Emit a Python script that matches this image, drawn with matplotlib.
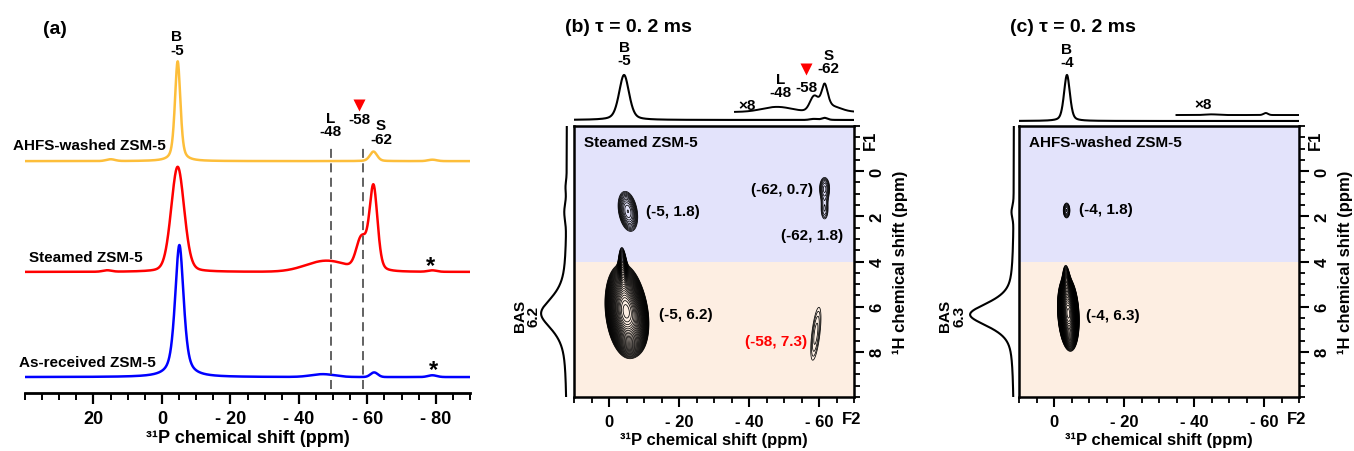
import numpy as np
import matplotlib.pyplot as plt
from matplotlib.ticker import MultipleLocator

plt.rcParams['font.family'] = ['Liberation Sans', 'DejaVu Sans']
plt.rcParams['font.weight'] = 'bold'

W, H = 1354, 452

# ---- (a) 1D 31P spectra; each peak = centre (ppm), fwhm (ppm), height, lorentz fraction
ahfs_pos = [-4.6, -61.8, 15.0, -79.0]
ahfs_fwhm = [1.9, 2.5, 3.0, 3.0]
ahfs_amp = [0.282, 0.027, 0.005, 0.004]
ahfs_eta = [0.5, 0.3, 0.0, 0.0]

steam_pos = [-4.6, -61.8, -58.3, -48.0, 16.0, -79.0]
steam_fwhm = [4.5, 2.8, 3.5, 14.0, 3.0, 3.0]
steam_amp = [0.297, 0.240, 0.085, 0.031, 0.004, 0.004]
steam_eta = [0.2, 0.3, 0.0, 0.0, 0.0, 0.0]

asrec_pos = [-5.1, -47.0, -62.0, -79.0]
asrec_fwhm = [3.0, 8.0, 2.5, 3.0]
asrec_amp = [0.373, 0.008, 0.013, 0.005]
asrec_eta = [0.6, 0.0, 0.0, 0.0]

off_ahfs, off_steam, off_asrec = 0.655, 0.342, 0.045
dashed_ppm = [-49.3, -58.6]

# ---- (b) steamed ZSM-5, 2D peaks: 31P centre, 1H centre, sx, sy, shear, amplitude
b_cx = [-4.8, -8.0, -4.0, -5.4, -61.6, -61.6, -59.1]
b_cy = [6.2, 6.6, 4.5, 1.78, 0.75, 1.75, 7.2]
b_sx = [2.1, 1.5, 0.6, 1.7, 1.2, 1.0, 1.3]
b_sy = [0.75, 0.6, 0.55, 0.56, 0.4, 0.4, 1.3]
b_k = [-0.5, -0.4, -0.3, -0.9, 0.0, 0.0, 0.75]
b_amp = [1.0, 0.15, 0.15, 0.07, 0.04, 0.03, 0.03]

# top projection (31P) and x8 zoom, left projection (1H)
b_top_pos = [-4.3, -61.6, -58.5]
b_top_fwhm = [3.4, 2.0, 2.5]
b_top_amp = [0.536, 0.025, 0.012]
b_top_eta = [0.4, 0.3, 0.0]
b_x8_pos = [-48.0, -58.6, -61.6, -64.0]
b_x8_fwhm = [10.0, 2.8, 2.2, 6.0]
b_x8_amp = [0.06, 0.17, 0.30, 0.05]
b_x8_eta = [0.0, 0.0, 0.5, 0.0]
b_left_pos = [6.3, 1.8, 0.7]
b_left_fwhm = [1.7, 0.9, 0.6]
b_left_amp = [0.74, 0.06, 0.03]
b_left_eta = [0.7, 0.0, 0.0]

# ---- (c) AHFS-washed ZSM-5
c_cx = [-4.1, -3.6, -3.6]
c_cy = [6.3, 5.0, 1.74]
c_sx = [1.1, 0.55, 0.75]
c_sy = [0.6, 0.45, 0.26]
c_k = [-0.35, -0.3, 0.0]
c_amp = [1.0, 0.1, 0.045]

c_top_pos = [-3.7]
c_top_fwhm = [2.0]
c_top_amp = [0.548]
c_top_eta = [0.4]
c_x8_pos = [-60.5, -45.0]
c_x8_fwhm = [1.5, 4.0]
c_x8_amp = [0.024, 0.008]
c_x8_eta = [0.0, 0.0]
c_left_pos = [6.35, 1.8]
c_left_fwhm = [1.25, 0.6]
c_left_amp = [0.77, 0.035]
c_left_eta = [0.6, 0.0]

fig = plt.figure(figsize=(W / 100, H / 100), dpi=100)


def px_axes(x0, y0, x1, y1):
    return fig.add_axes([x0 / W, 1 - y1 / H, (x1 - x0) / W, (y1 - y0) / H])


def ftext(x, y, s, **kw):
    fig.text(x / W, 1 - y / H, s, **kw)


def pv(x, c, w, h, eta):
    g = np.exp(-4 * np.log(2) * ((x - c) / w) ** 2)
    l = 1 / (1 + ((x - c) / (w / 2)) ** 2)
    return h * (eta * l + (1 - eta) * g)


def spec(x, pos, fwhm, amp, eta):
    return sum(pv(x, *p) for p in zip(pos, fwhm, amp, eta))


def peaks2d(X, Y, cx, cy, sx, sy, k, amp):
    Z = np.zeros_like(X)
    for x0, y0, a, b, s, h in zip(cx, cy, sx, sy, k, amp):
        U = X - (x0 + s * (Y - y0))
        Z += h * np.exp(-0.5 * ((U / a) ** 2 + ((Y - y0) / b) ** 2))
    return Z


def blank(ax):
    for s in ax.spines.values():
        s.set_visible(False)
    ax.set_xticks([])
    ax.set_yticks([])
    ax.patch.set_alpha(0)


# ================= (a)
ax = px_axes(25, 40, 470, 394)
x = np.linspace(40, -90, 2600)
ax.plot(x, off_ahfs + spec(x, ahfs_pos, ahfs_fwhm, ahfs_amp, ahfs_eta), color='#FDBE3A', lw=1.8)
ax.plot(x, off_steam + spec(x, steam_pos, steam_fwhm, steam_amp, steam_eta), color='#FF0000', lw=1.8)
ax.plot(x, off_asrec + spec(x, asrec_pos, asrec_fwhm, asrec_amp, asrec_eta), color='#0000FF', lw=1.8)
for d in dashed_ppm:
    ax.plot([d, d], [0.011, 0.703], color='#555555', lw=1.3, dashes=(5, 3))
ax.set_xlim(40, -90)
ax.set_ylim(0, 1)
for s in ['top', 'left', 'right']:
    ax.spines[s].set_visible(False)
ax.spines['bottom'].set_linewidth(2)
ax.set_yticks([])
ax.set_xticks([20, 0, -20, -40, -60, -80])
ax.set_xticklabels(['20', '0', '- 20', '- 40', '- 60', '- 80'])
ax.xaxis.set_minor_locator(MultipleLocator(5))
ax.tick_params(axis='x', which='major', direction='out', length=8, width=1.6, labelsize=13, pad=4)
ax.tick_params(axis='x', which='minor', direction='out', length=5, width=1.4)
ax.set_xlabel('³¹P chemical shift (ppm)', fontsize=13, fontweight='bold', labelpad=2)
ax.patch.set_alpha(0)

ax.text(-1.2, 0.70, 'AHFS-washed ZSM-5', ha='right', va='center', fontsize=11)
ax.text(5.5, 0.384, 'Steamed ZSM-5', ha='right', va='center', fontsize=11)
ax.text(1.7, 0.088, 'As-received ZSM-5', ha='right', va='center', fontsize=11)
ax.text(-4.4, 0.95, 'B\n-5', ha='center', va='bottom', fontsize=11, linespacing=0.95)
ax.text(-49.3, 0.72, 'L\n-48', ha='center', va='bottom', fontsize=11, linespacing=0.95)
ax.text(-57.7, 0.755, '-58', ha='center', va='bottom', fontsize=11)
ax.plot(-57.7, 0.814, marker='v', color='red', ms=8, mec='none', clip_on=False)
ax.text(-64.0, 0.698, 'S\n-62', ha='center', va='bottom', fontsize=11, linespacing=0.95)
ax.text(-78.4, 0.36, '*', ha='center', va='center', fontsize=17)
ax.text(-79.3, 0.065, '*', ha='center', va='center', fontsize=17)
ftext(55, 30, '(a)', ha='center', va='center', fontsize=14)


# ================= (b), (c)
def panel2d(xl, title, sample, cx, cy, sx, sy, k, amp,
            top, x8, x8_start, top_base, x8_base, left, left_box, left_base):
    ax = px_axes(xl, 127, xl + 280, 398)
    ax.axhspan(-2, 4, color='#E3E3FB', zorder=0, lw=0)
    ax.axhspan(4, 10, color='#FDEEE2', zorder=0, lw=0)
    gx = np.linspace(10, -70, 800)
    gy = np.linspace(-2, 10, 700)
    X, Y = np.meshgrid(gx, gy)
    Z = peaks2d(X, Y, cx, cy, sx, sy, k, amp)
    levels = 0.02 * 1.12 ** np.arange(36)
    ax.contour(X, Y, Z, levels=levels, colors='black', linewidths=0.55, zorder=2)
    ax.set_xlim(10, -70)
    ax.set_ylim(10, -2)
    for s in ax.spines.values():
        s.set_linewidth(1.8)
    ax.set_xticks([0, -20, -40, -60])
    ax.set_xticklabels(['0', '- 20', '- 40', '- 60'])
    ax.xaxis.set_minor_locator(MultipleLocator(5))
    ax.yaxis.tick_right()
    ax.yaxis.set_label_position('right')
    ax.set_yticks([0, 2, 4, 6, 8])
    ax.yaxis.set_minor_locator(MultipleLocator(0.5))
    ax.tick_params(which='major', direction='out', length=7, width=1.5, labelsize=12)
    ax.tick_params(which='minor', direction='out', length=4, width=1.3)
    ax.tick_params(axis='x', pad=5)
    ax.tick_params(axis='y', pad=4)
    for t in ax.get_yticklabels():
        t.set_rotation(90)
        t.set_va('center')
    ax.set_xlabel('³¹P chemical shift (ppm)', fontsize=12, fontweight='bold', labelpad=2)
    ax.set_ylabel('¹H chemical shift (ppm)', fontsize=12, fontweight='bold', labelpad=6)
    ax.text(0.993, -0.08, 'F2', transform=ax.transAxes, ha='center', va='center', fontsize=12)
    ax.text(1.06, 0.952, 'F1', transform=ax.transAxes, ha='center', va='center', fontsize=12,
            rotation=90)
    ax.text(7.1, -1.27, sample, ha='left', va='center', fontsize=11, zorder=3)

    # top projection
    at = px_axes(xl, 40, xl + 280, 124)
    xt = np.linspace(10, -70, 1600)
    at.plot(xt, top_base + spec(xt, *top), color='black', lw=1.5)
    xz = np.linspace(x8_start, -70, 900)
    at.plot(xz, x8_base + spec(xz, *x8), color='black', lw=1.4)
    at.set_xlim(10, -70)
    at.set_ylim(0, 1)
    blank(at)

    # left projection
    al = px_axes(left_box[0], 127, left_box[1], 398)
    yl = np.linspace(-2, 10, 900)
    al.plot(left_base + spec(yl, *left), yl, color='black', lw=1.5)
    al.set_xlim(1, 0)
    al.set_ylim(10, -2)
    blank(al)

    ftext(xl - 9, 28, title, ha='left', va='center', fontsize=14)
    return ax, at


ax_b, at_b = panel2d(574, '(b) τ = 0. 2 ms', 'Steamed ZSM-5',
                     b_cx, b_cy, b_sx, b_sy, b_k, b_amp,
                     (b_top_pos, b_top_fwhm, b_top_amp, b_top_eta),
                     (b_x8_pos, b_x8_fwhm, b_x8_amp, b_x8_eta), -36.0, 0.036, 0.131,
                     (b_left_pos, b_left_fwhm, b_left_amp, b_left_eta), (535, 570), 0.086)
ax_b.text(-10.5, 1.76, '(-5, 1.8)', ha='left', va='center', fontsize=11)
ax_b.text(-58.2, 0.79, '(-62, 0.7)', ha='right', va='center', fontsize=11)
ax_b.text(-58.0, 2.81, '(-62, 1.8)', ha='center', va='center', fontsize=11)
ax_b.text(-14.2, 6.33, '(-5, 6.2)', ha='left', va='center', fontsize=11)
ax_b.text(-56.5, 7.5, '(-58, 7.3)', ha='right', va='center', fontsize=11, color='red')
at_b.text(-4.3, 0.667, 'B\n-5', ha='center', va='bottom', fontsize=11, linespacing=0.95)
at_b.text(-39.5, 0.214, '×8', ha='center', va='center', fontsize=11)
at_b.text(-49.1, 0.286, 'L\n-48', ha='center', va='bottom', fontsize=11, linespacing=0.95)
at_b.plot(-56.3, 0.643, marker='v', color='red', ms=8, mec='none', clip_on=False)
at_b.text(-56.3, 0.43, '-58', ha='center', va='center', fontsize=11)
at_b.text(-62.8, 0.571, 'S\n-62', ha='center', va='bottom', fontsize=11, linespacing=0.95)
ftext(527, 316, 'BAS\n6.2', ha='center', va='center', fontsize=11, rotation=90, linespacing=1.0)

ax_c, at_c = panel2d(1019, '(c) τ = 0. 2 ms', 'AHFS-washed ZSM-5',
                     c_cx, c_cy, c_sx, c_sy, c_k, c_amp,
                     (c_top_pos, c_top_fwhm, c_top_amp, c_top_eta),
                     (c_x8_pos, c_x8_fwhm, c_x8_amp, c_x8_eta), -35.0, 0.024, 0.095,
                     (c_left_pos, c_left_fwhm, c_left_amp, c_left_eta), (960, 1017), 0.053)
ax_c.text(-7.1, 1.67, '(-4, 1.8)', ha='left', va='center', fontsize=11)
ax_c.text(-9.1, 6.37, '(-4, 6.3)', ha='left', va='center', fontsize=11)
at_c.text(-3.7, 0.643, 'B\n-4', ha='center', va='bottom', fontsize=11, linespacing=0.95)
at_c.text(-42.6, 0.226, '×8', ha='center', va='center', fontsize=11)
ftext(952, 316, 'BAS\n6.3', ha='center', va='center', fontsize=11, rotation=90, linespacing=1.0)

fig.savefig('out.png', dpi=100)
